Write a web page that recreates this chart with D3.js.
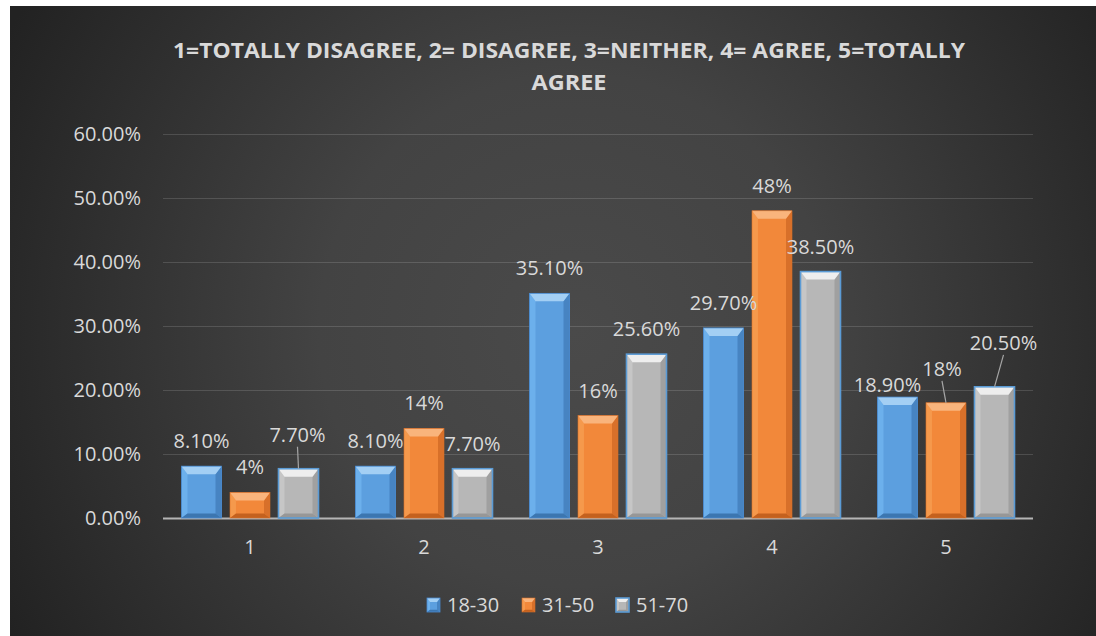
<!DOCTYPE html>
<html>
<head>
<meta charset="utf-8">
<script src="https://cdn.jsdelivr.net/npm/d3@7"></script>
<style>
  html, body { margin: 0; padding: 0; background: #ffffff; }
  svg { display: block; }
</style>
</head>
<body>
<svg id="chart" width="1096" height="636"></svg>
<script>
// ---- data ----
const categories = ["1", "2", "3", "4", "5"];
const seriesNames = ["18-30", "31-50", "51-70"];
const values1830 = [0.081, 0.081, 0.351, 0.297, 0.189];
const values3150 = [0.04, 0.14, 0.16, 0.48, 0.18];
const values5170 = [0.077, 0.077, 0.256, 0.385, 0.205];
const yTicks = [0, 0.1, 0.2, 0.3, 0.4, 0.5, 0.6];
const titleLines = ["1=TOTALLY DISAGREE, 2= DISAGREE, 3=NEITHER, 4= AGREE, 5=TOTALLY", "AGREE"];

const seriesValues = [values1830, values3150, values5170];
const labelFormats = [d3.format(".2%"), d3.format(".0%"), d3.format(".2%")];

// manual nudges for a few data labels (series index, category index) -> [dx, dy, leader]
const labelNudges = {
  "2-0": [-1, -9, true],
  "0-4": [-10, 13, false],
  "1-4": [-4, -9, true],
  "2-4": [9, -19, true]
};

// facet shades for the bevelled bars
const palettes = [
  { face: "#5c9fdf", top: "#a3cff4", left: "#6cb0ec", right: "#4784c2", bottom: "#3c76b0", stroke: "#4a8bd0", sw: 0.8 },
  { face: "#f2883a", top: "#f9b47c", left: "#f5994c", right: "#d8702a", bottom: "#c4611e", stroke: "#d8702a", sw: 0.6 },
  { face: "#b7b7b7", top: "#eeeeee", left: "#c6c6c6", right: "#a0a0a0", bottom: "#979797", stroke: "#5b9bd5", sw: 1.6 }
];

const svg = d3.select("#chart");
const W = 1096, H = 636;
const frame = { x: 10, y: 6, w: W - 10, h: H - 6 };

// ---- background ----
const defs = svg.append("defs");
const bg = defs.append("radialGradient")
  .attr("id", "bgGrad")
  .attr("gradientUnits", "userSpaceOnUse")
  .attr("cx", 575).attr("cy", 330).attr("r", 640);
bg.append("stop").attr("offset", 0).attr("stop-color", "#4a4a4a");
bg.append("stop").attr("offset", 0.4).attr("stop-color", "#434343");
bg.append("stop").attr("offset", 1).attr("stop-color", "#222222");

svg.append("rect")
  .attr("x", frame.x).attr("y", frame.y)
  .attr("width", frame.w).attr("height", frame.h)
  .attr("fill", "url(#bgGrad)");

// ---- scales ----
const plot = { left: 163, right: 1033, top: 134, bottom: 518 };
const x0 = d3.scaleBand().domain(categories).range([plot.left, plot.right]).padding(0);
const groupInset = 18.5;
const x1 = d3.scaleBand().domain(seriesNames)
  .range([groupInset, x0.bandwidth() - groupInset])
  .paddingInner(0.175).paddingOuter(0);
const y = d3.scaleLinear().domain([0, 0.6]).range([plot.bottom, plot.top]);

const textColor = "#d9d9d9";
const numFont = "'Open Sans', 'DejaVu Sans', sans-serif";

// ---- gridlines + y axis ----
const yAxis = d3.axisLeft(y)
  .tickValues(yTicks)
  .tickFormat(d3.format(".2%"))
  .tickSize(-(plot.right - plot.left))
  .tickPadding(22);

const yAxisG = svg.append("g")
  .attr("transform", `translate(${plot.left},0)`)
  .call(yAxis);
yAxisG.select(".domain").remove();
yAxisG.selectAll(".tick line")
  .attr("stroke", "rgba(255,255,255,0.14)")
  .attr("stroke-width", 1.2);
yAxisG.selectAll(".tick text")
  .attr("fill", textColor)
  .attr("font-family", numFont)
  .attr("font-size", 20);

// ---- x axis ----
const xAxis = d3.axisBottom(x0).tickSize(0).tickPadding(22);
const xAxisG = svg.append("g")
  .attr("transform", `translate(0,${plot.bottom})`)
  .call(xAxis);
xAxisG.select(".domain").remove();
xAxisG.selectAll(".tick text")
  .attr("fill", textColor)
  .attr("font-family", numFont)
  .attr("font-size", 20);

// ---- bevelled bar drawing ----
function bevelBar(g, bx, by, bw, bh, pal, bev) {
  const bt = Math.min(bev, bh / 2);
  const bs = Math.min(bev * 0.75, bw / 2);
  const bb = Math.min(bev * 0.55, bh / 2);
  const x2 = bx + bw, y2 = by + bh;
  g.append("rect").attr("x", bx).attr("y", by).attr("width", bw).attr("height", bh)
    .attr("fill", pal.face);
  const poly = (pts, fill) => g.append("polygon")
    .attr("points", pts.map(p => p.join(",")).join(" "))
    .attr("fill", fill);
  poly([[bx, by], [bx + bs, by + bt], [bx + bs, y2 - bb], [bx, y2]], pal.left);
  poly([[x2, by], [x2, y2], [x2 - bs, y2 - bb], [x2 - bs, by + bt]], pal.right);
  poly([[bx, y2], [bx + bs, y2 - bb], [x2 - bs, y2 - bb], [x2, y2]], pal.bottom);
  poly([[bx, by], [x2, by], [x2 - bs, by + bt], [bx + bs, by + bt]], pal.top);
  g.append("rect").attr("x", bx).attr("y", by).attr("width", bw).attr("height", bh)
    .attr("fill", "none").attr("stroke", pal.stroke).attr("stroke-width", pal.sw);
}

// x axis baseline drawn under the bars
svg.append("line")
  .attr("x1", plot.left).attr("x2", plot.right)
  .attr("y1", plot.bottom + 0.5).attr("y2", plot.bottom + 0.5)
  .attr("stroke", "#b5b5b5").attr("stroke-width", 2);

const barsG = svg.append("g");
const labelsG = svg.append("g");

seriesNames.forEach((name, si) => {
  seriesValues[si].forEach((v, ci) => {
    const bx = x0(categories[ci]) + x1(name);
    const bw = x1.bandwidth();
    const by = y(v);
    const bh = y(0) - y(v);
    bevelBar(barsG.append("g"), bx, by, bw, bh, palettes[si], 8);

    const cx = bx + bw / 2;
    const nudge = labelNudges[`${si}-${ci}`] || [0, 0, false];
    const lx = cx + nudge[0];
    const ly = by - 25 + nudge[1];
    labelsG.append("text")
      .attr("x", lx).attr("y", ly)
      .attr("dy", "0.35em")
      .attr("text-anchor", "middle")
      .attr("fill", textColor)
      .attr("font-family", numFont)
      .attr("font-size", 20)
      .text(labelFormats[si](v));
    if (nudge[2]) {
      labelsG.append("line")
        .attr("x1", lx).attr("y1", ly + 12)
        .attr("x2", cx).attr("y2", by)
        .attr("stroke", "#a6a6a6").attr("stroke-width", 1.2);
    }
  });
});

// ---- title ----
const titleG = svg.append("g");
titleLines.forEach((line, i) => {
  const t = titleG.append("text")
    .attr("x", 569).attr("y", 58 + i * 32)
    .attr("text-anchor", "middle")
    .attr("fill", textColor)
    .attr("font-family", "'Open Sans', 'DejaVu Sans', sans-serif")
    .attr("font-weight", "bold")
    .attr("font-size", 22)
    .text(line);
  if (i === 0) t.attr("textLength", 792).attr("lengthAdjust", "spacingAndGlyphs");
  else t.attr("textLength", 75).attr("lengthAdjust", "spacingAndGlyphs");
});

// ---- legend ----
const legendX = [427, 522, 616];
const legendG = svg.append("g");
seriesNames.forEach((name, si) => {
  const g = legendG.append("g");
  bevelBar(g, legendX[si], 598, 13, 14, palettes[si], 4);
  g.append("text")
    .attr("x", legendX[si] + 20).attr("y", 612)
    .attr("fill", textColor)
    .attr("font-family", numFont)
    .attr("font-size", 20)
    .text(name);
});
</script>
</body>
</html>
